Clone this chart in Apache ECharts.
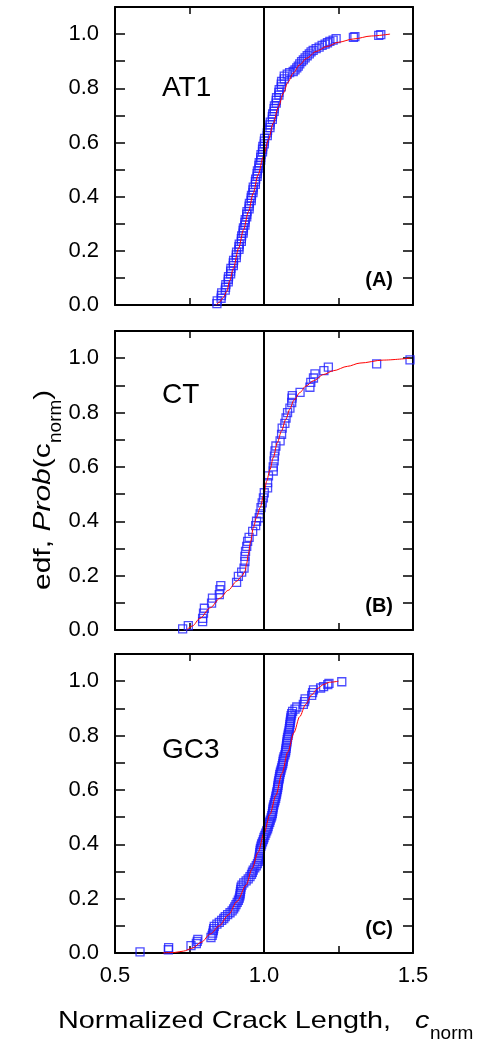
<!DOCTYPE html>
<html><head><meta charset="utf-8">
<script src="https://cdn.jsdelivr.net/npm/echarts@6/dist/echarts.min.js"></script>
<style>html,body{margin:0;padding:0;background:#fff}#c{width:477px;height:1042px}</style>
</head><body><div id="c"></div>
<script>
// ---------------- data ----------------
const panelNames = ['AT1', 'CT', 'GC3'];
const panelTags = ['(A)', '(B)', '(C)'];
const xTickLabels = ['0.5', '1.0', '1.5'];
const yTickLabels = ['0.0', '0.2', '0.4', '0.6', '0.8', '1.0'];
const refX = 1.0;

const at1Edf = [
[0.842,0.005],[0.843,0.015],[0.856,0.025],[0.857,0.035],[0.858,0.045],[0.870,0.055],[0.871,0.065],[0.872,0.075],
[0.880,0.085],[0.880,0.095],[0.881,0.105],[0.888,0.115],[0.888,0.125],[0.889,0.135],[0.897,0.145],[0.897,0.155],
[0.898,0.165],[0.907,0.175],[0.907,0.185],[0.908,0.195],[0.916,0.205],[0.916,0.215],[0.917,0.225],[0.924,0.235],
[0.924,0.245],[0.925,0.255],[0.930,0.265],[0.930,0.275],[0.931,0.285],[0.936,0.295],[0.936,0.305],[0.937,0.315],
[0.942,0.325],[0.942,0.335],[0.943,0.345],[0.950,0.355],[0.950,0.365],[0.951,0.375],[0.957,0.385],[0.957,0.395],
[0.958,0.405],[0.963,0.415],[0.963,0.425],[0.964,0.435],[0.971,0.445],[0.971,0.455],[0.972,0.465],[0.977,0.475],
[0.977,0.485],[0.978,0.495],[0.983,0.505],[0.983,0.515],[0.984,0.525],[0.989,0.535],[0.989,0.545],[0.990,0.555],
[0.995,0.565],[0.995,0.575],[0.996,0.585],[1.001,0.595],[1.001,0.605],[1.002,0.615],[1.011,0.625],[1.011,0.635],
[1.012,0.645],[1.020,0.655],[1.020,0.665],[1.021,0.675],[1.028,0.685],[1.028,0.695],[1.029,0.705],[1.034,0.715],
[1.034,0.725],[1.035,0.735],[1.041,0.745],[1.041,0.755],[1.042,0.765],[1.050,0.775],[1.050,0.785],[1.051,0.795],
[1.058,0.805],[1.058,0.815],[1.059,0.825],[1.068,0.835],[1.068,0.845],[1.078,0.852],[1.086,0.858],[1.098,0.862],
[1.104,0.868],[1.110,0.875],[1.115,0.882],[1.120,0.890],[1.126,0.898],[1.132,0.905],[1.138,0.912],[1.145,0.920],
[1.152,0.927],[1.158,0.934],[1.165,0.940],[1.175,0.946],[1.185,0.952],[1.195,0.958],[1.205,0.963],[1.213,0.968],
[1.221,0.973],[1.232,0.978],[1.242,0.983],[1.300,0.988],[1.305,0.991],[1.385,0.995],[1.392,0.998]
];
const at1Fit = [
[0.839,0],[0.850,0.010],[0.864,0.028],[0.875,0.050],[0.885,0.090],[0.897,0.135],[0.915,0.210],[0.931,0.277],
[0.948,0.345],[0.964,0.413],[0.980,0.480],[0.998,0.548],[1.015,0.610],[1.031,0.671],[1.048,0.730],[1.065,0.782],
[1.080,0.822],[1.098,0.856],[1.120,0.887],[1.143,0.911],[1.175,0.936],[1.210,0.954],[1.250,0.970],[1.300,0.982],
[1.360,0.993],[1.423,1.000]
];

const ctEdf = [
[0.727,0.004],[0.746,0.016],[0.794,0.031],[0.794,0.043],[0.797,0.062],[0.800,0.080],[0.824,0.099],[0.827,0.117],
[0.850,0.130],[0.852,0.148],[0.855,0.163],[0.908,0.175],[0.914,0.197],[0.925,0.213],[0.933,0.228],[0.936,0.252],
[0.936,0.271],[0.938,0.289],[0.942,0.308],[0.945,0.326],[0.950,0.341],[0.962,0.363],[0.972,0.384],[0.975,0.400],
[0.984,0.413],[0.987,0.427],[0.990,0.450],[0.994,0.468],[0.998,0.486],[1.001,0.505],[1.012,0.523],[1.012,0.542],
[1.015,0.567],[1.031,0.585],[1.031,0.600],[1.034,0.622],[1.035,0.640],[1.037,0.659],[1.040,0.677],[1.054,0.696],
[1.059,0.720],[1.061,0.743],[1.070,0.760],[1.074,0.780],[1.079,0.800],[1.087,0.816],[1.093,0.837],[1.094,0.853],
[1.095,0.862],[1.121,0.874],[1.154,0.893],[1.157,0.911],[1.166,0.927],[1.171,0.942],[1.201,0.954],[1.216,0.967],
[1.378,0.979],[1.490,0.994]
];
const ctFit = [
[0.740,0],[0.760,0.015],[0.785,0.043],[0.820,0.082],[0.852,0.117],[0.880,0.146],[0.908,0.179],[0.925,0.197],
[0.936,0.215],[0.942,0.245],[0.947,0.277],[0.955,0.325],[0.964,0.376],[0.975,0.415],[0.987,0.450],[1.000,0.500],
[1.009,0.548],[1.020,0.590],[1.031,0.634],[1.045,0.690],[1.059,0.733],[1.073,0.775],[1.087,0.813],[1.100,0.845],
[1.121,0.874],[1.140,0.897],[1.166,0.917],[1.200,0.940],[1.233,0.954],[1.280,0.970],[1.322,0.982],[1.400,0.993],
[1.490,1.000]
];

const gc3Edf = [
[0.584,0.004],[0.679,0.012],[0.680,0.020],[0.755,0.027],[0.773,0.035],[0.776,0.043],[0.778,0.050],[0.822,0.057],
[0.826,0.065],[0.828,0.073],[0.830,0.082],[0.831,0.090],[0.833,0.098],[0.842,0.106],[0.850,0.113],[0.858,0.120],
[0.865,0.127],[0.870,0.134],[0.878,0.141],[0.886,0.148],[0.893,0.155],[0.898,0.162],[0.902,0.170],[0.906,0.178],
[0.910,0.186],[0.914,0.194],[0.917,0.202],[0.919,0.210],[0.920,0.218],[0.921,0.226],[0.922,0.234],[0.923,0.242],
[0.926,0.250],[0.932,0.258],[0.940,0.265],[0.947,0.273],[0.953,0.281],[0.958,0.289],[0.961,0.297],[0.964,0.305],
[0.969,0.313],[0.974,0.321],[0.978,0.329],[0.981,0.337],[0.983,0.345],[0.984,0.353],[0.985,0.361],[0.986,0.369],
[0.987,0.377],[0.988,0.385],[0.990,0.393],[0.992,0.401],[0.995,0.409],[0.998,0.417],[1.000,0.425],[1.003,0.433],
[1.006,0.441],[1.009,0.449],[1.012,0.457],[1.014,0.465],[1.016,0.473],[1.019,0.481],[1.021,0.489],[1.024,0.497],
[1.026,0.505],[1.028,0.513],[1.029,0.521],[1.030,0.529],[1.031,0.537],[1.033,0.545],[1.035,0.553],[1.037,0.561],
[1.039,0.569],[1.040,0.577],[1.042,0.585],[1.043,0.593],[1.045,0.601],[1.046,0.609],[1.047,0.617],[1.048,0.625],
[1.049,0.633],[1.051,0.641],[1.052,0.649],[1.053,0.657],[1.055,0.665],[1.057,0.673],[1.059,0.681],[1.061,0.689],
[1.063,0.697],[1.064,0.705],[1.065,0.713],[1.067,0.721],[1.070,0.729],[1.072,0.737],[1.073,0.745],[1.074,0.753],
[1.075,0.761],[1.076,0.769],[1.077,0.777],[1.078,0.785],[1.079,0.793],[1.081,0.801],[1.082,0.809],[1.084,0.817],
[1.085,0.825],[1.086,0.833],[1.087,0.841],[1.088,0.849],[1.089,0.857],[1.090,0.865],[1.091,0.873],[1.093,0.881],
[1.096,0.889],[1.104,0.897],[1.110,0.905],[1.132,0.915],[1.136,0.925],[1.138,0.935],[1.160,0.948],[1.163,0.958],
[1.166,0.968],[1.190,0.975],[1.200,0.980],[1.214,0.987],[1.218,0.992],[1.261,0.998]
];
const gc3Fit = [
[0.660,0],[0.700,0.002],[0.730,0.007],[0.760,0.018],[0.790,0.040],[0.820,0.070],[0.850,0.100],[0.880,0.140],
[0.910,0.190],[0.940,0.250],[0.960,0.310],[0.980,0.370],[1.000,0.440],[1.020,0.510],[1.040,0.580],[1.060,0.660],
[1.080,0.740],[1.100,0.810],[1.120,0.870],[1.140,0.915],[1.160,0.950],[1.180,0.973],[1.200,0.988],[1.220,0.996],
[1.250,1.000]
];

const edfSets = [at1Edf, ctEdf, gc3Edf];
const fitSets = [at1Fit, ctFit, gc3Fit];

// ---------------- layout / style ----------------
const FONT = '"Liberation Sans", Arial, sans-serif';
const BLUE = '#1f1fff';
const gridBoxes = [
  {left: 115, top: 7, width: 298, height: 298},
  {left: 115, top: 331, width: 298, height: 299},
  {left: 115, top: 654, width: 298, height: 299}
];

function xFmt(v) {
  const r = Math.round(v * 4);
  if (r % 2 !== 0) return '';
  const idx = Math.round((v - 0.5) / 0.5);
  return xTickLabels[idx] || '';
}
function yFmt(v) {
  const r = Math.round(v * 10);
  if (r % 2 !== 0) return '';
  return yTickLabels[r / 2] || '';
}

const grid = [], xAxis = [], yAxis = [], series = [];
gridBoxes.forEach((g, i) => {
  grid.push(Object.assign({containLabel: false}, g));
  ['bottom', 'top'].forEach(pos => {
    xAxis.push({
      type: 'value', gridIndex: i, position: pos, min: 0.5, max: 1.5, interval: 0.25,
      axisLine: {show: true, onZero: false, lineStyle: {color: '#000', width: 2}},
      axisTick: {show: true, inside: true, length: 7, lineStyle: {color: '#000', width: 1.5}},
      splitLine: {show: false},
      axisLabel: {show: pos === 'bottom' && i === 2, formatter: xFmt, fontSize: 22, color: '#000',
                  fontFamily: FONT, margin: 12}
    });
  });
  ['left', 'right'].forEach(pos => {
    yAxis.push({
      type: 'value', gridIndex: i, position: pos, min: 0, max: 1.1, interval: 0.1,
      axisLine: {show: true, onZero: false, lineStyle: {color: '#000', width: 2}},
      axisTick: {show: true, inside: true, length: 10, lineStyle: {color: '#000', width: 1.5}},
      splitLine: {show: false},
      axisLabel: {show: pos === 'left', formatter: yFmt, fontSize: 22, color: '#000',
                  fontFamily: FONT, margin: 16}
    });
  });
  series.push({
    type: 'scatter', xAxisIndex: i * 2, yAxisIndex: i * 2, data: edfSets[i],
    symbol: 'rect', symbolSize: 8,
    itemStyle: {color: 'rgba(0,0,0,0)', borderColor: BLUE, borderWidth: 1.3},
    z: 3
  });
  series.push({
    type: 'line', xAxisIndex: i * 2, yAxisIndex: i * 2, data: fitSets[i],
    showSymbol: false, smooth: 0.3, smoothMonotone: 'x',
    lineStyle: {color: '#ff0000', width: 1}, z: 4,
    markLine: {
      silent: true, symbol: 'none', label: {show: false}, animation: false,
      lineStyle: {color: '#000', width: 2, type: 'solid'},
      data: [{xAxis: refX}]
    }
  });
});

// text elements
const graphic = [];
const nameMid = [88, 395, 750];
const tagMid = [280, 606, 929];
gridBoxes.forEach((g, i) => {
  graphic.push({type: 'text', x: 162, y: nameMid[i],
    style: {text: panelNames[i], fontSize: 28, fontFamily: FONT, fill: '#000', align: 'left', verticalAlign: 'middle'}});
  graphic.push({type: 'text', x: 393, y: tagMid[i],
    style: {text: panelTags[i], fontSize: 20, fontWeight: 'bold', fontFamily: FONT, fill: '#000', align: 'right', verticalAlign: 'middle'}});
});
// x-axis title
graphic.push({type: 'text', x: 58, y: 1021.6, scaleX: 1.2,
  style: {text: 'Normalized Crack Length,', fontSize: 24, fontFamily: FONT, fill: '#000', align: 'left', verticalAlign: 'middle'}});
graphic.push({type: 'text', x: 415, y: 1021.6, scaleX: 1.2,
  style: {text: 'c', fontSize: 24, fontStyle: 'italic', fontFamily: FONT, fill: '#000', align: 'left', verticalAlign: 'middle'}});
graphic.push({type: 'text', x: 430, y: 1033.4,
  style: {text: 'norm', fontSize: 19, fontFamily: FONT, fill: '#000', align: 'left', verticalAlign: 'middle'}});
// y-axis title (rotated)
graphic.push({type: 'group', x: 52, y: 590, rotation: Math.PI / 2, children: [
  {type: 'text', x: 0, y: -8.4, scaleX: 1.25,
    style: {text: 'edf, ', fontSize: 24, fontFamily: FONT, fill: '#000', align: 'left', verticalAlign: 'middle'}},
  {type: 'text', x: 58.4, y: -8.4, scaleX: 1.25,
    style: {text: 'Prob', fontSize: 24, fontStyle: 'italic', fontFamily: FONT, fill: '#000', align: 'left', verticalAlign: 'middle'}},
  {type: 'text', x: 121.8, y: -8.4, scaleX: 1.25,
    style: {text: '(c', fontSize: 24, fontFamily: FONT, fill: '#000', align: 'left', verticalAlign: 'middle'}},
  {type: 'text', x: 147, y: 3.4,
    style: {text: 'norm', fontSize: 19, fontFamily: FONT, fill: '#000', align: 'left', verticalAlign: 'middle'}},
  {type: 'text', x: 190.3, y: -8.4, scaleX: 1.25,
    style: {text: ')', fontSize: 24, fontFamily: FONT, fill: '#000', align: 'left', verticalAlign: 'middle'}}
]});

const chart = echarts.init(document.getElementById('c'), null, {renderer: 'canvas'});
chart.setOption({
  animation: false,
  backgroundColor: '#fff',
  grid, xAxis, yAxis, series, graphic
});
</script>
</body></html>
